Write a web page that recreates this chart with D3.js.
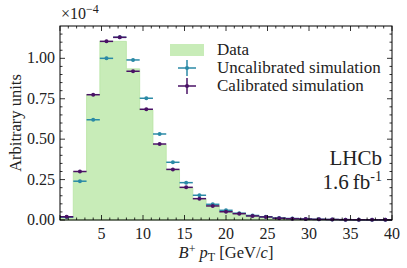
<!DOCTYPE html>
<html>
<head>
<meta charset="utf-8">
<script src="https://cdn.jsdelivr.net/npm/d3@7"></script>
<style>
  body { margin: 0; background: #fff; }
</style>
</head>
<body>
<svg id="chart"></svg>
<script>
// bin edges: 25 bins of 1.6 GeV from 0 to 40
var binLo = [0, 1.6, 3.2, 4.8, 6.4, 8, 9.6, 11.2, 12.8, 14.4, 16, 17.6, 19.2, 20.8, 22.4, 24, 25.6, 27.2, 28.8, 30.4, 32, 33.6, 35.2, 36.8, 38.4];
var binWidth = 1.6;

// values in units of 1e-4
var dataVals = [0.015, 0.30, 0.775, 1.105, 1.105, 0.935, 0.68, 0.465, 0.31, 0.20, 0.13, 0.088, 0.052, 0.037, 0.025, 0.018, 0.011, 0.008, 0.006, 0.004, 0.003, 0.002, 0.0015, 0.001, 0.001];
var uncalVals = [0.018, 0.24, 0.62, 1.0, 1.13, 0.99, 0.753, 0.532, 0.357, 0.231, 0.153, 0.097, 0.06, 0.042, 0.028, 0.02, 0.012, 0.009, 0.006, 0.004, 0.003, 0.002, 0.0015, 0.001, 0.001];
var calVals = [0.02, 0.30, 0.775, 1.105, 1.13, 0.92, 0.685, 0.47, 0.313, 0.202, 0.132, 0.087, 0.051, 0.039, 0.025, 0.019, 0.011, 0.008, 0.006, 0.004, 0.003, 0.002, 0.0015, 0.001, 0.001];
var errVals = [0.003, 0.006, 0.008, 0.009, 0.009, 0.008, 0.007, 0.006, 0.005, 0.005, 0.004, 0.003, 0.003, 0.002, 0.002, 0.002, 0.002, 0.001, 0.001, 0.001, 0.001, 0.001, 0.001, 0.001, 0.001];

var xTicks = [5, 10, 15, 20, 25, 30, 35, 40];
var yTicks = [0, 0.25, 0.5, 0.75, 1.0];

var W = 407, H = 268;
var m = {left: 60, right: 15, top: 26, bottom: 48};
var FONT = "'Liberation Serif', 'DejaVu Serif', serif";

var svg = d3.select("#chart").attr("width", W).attr("height", H)
    .attr("font-family", FONT);

var x = d3.scaleLinear().domain([0, 40]).range([m.left, W - m.right]);
var y = d3.scaleLinear().domain([0, 1.2]).range([H - m.bottom, m.top]);

var tealCol = "#2b8aa6";
var purpCol = "#4a1266";
var greenFill = "#c8ecb8";
var textCol = "#222";

// data histogram (filled step)
var area = d3.area()
    .curve(d3.curveStepAfter)
    .x(function(d){ return x(d[0]); })
    .y0(y(0))
    .y1(function(d){ return y(d[1]); });
var steps = binLo.map(function(b, i){ return [b, dataVals[i]]; });
steps.push([40, dataVals[dataVals.length - 1]]);
svg.append("path").datum(steps)
    .attr("d", area)
    .attr("fill", greenFill)
    .attr("stroke", "#b9e4a4")
    .attr("stroke-width", 0.8);

// simulation points with error bars
function drawSeries(vals, col) {
    var g = svg.append("g");
    binLo.forEach(function(b, i){
        var cx = x(b + binWidth / 2), cy = y(vals[i]);
        g.append("line")
            .attr("x1", x(b)).attr("x2", x(b + binWidth))
            .attr("y1", cy).attr("y2", cy)
            .attr("stroke", col).attr("stroke-width", 1.5);
        g.append("line")
            .attr("x1", cx).attr("x2", cx)
            .attr("y1", y(vals[i] - errVals[i])).attr("y2", y(vals[i] + errVals[i]))
            .attr("stroke", col).attr("stroke-width", 1.5);
        g.append("circle").attr("cx", cx).attr("cy", cy).attr("r", 2).attr("fill", col);
    });
}
drawSeries(uncalVals, tealCol);
drawSeries(calVals, purpCol);

// axes: inward ticks on all four sides
var x0 = m.left, x1 = W - m.right, y0 = H - m.bottom, y1 = m.top;
var xMinor = d3.range(1, 40).filter(function(v){ return v % 5 != 0; });
var yMinor = d3.range(0.05, 1.2, 0.05).filter(function(v){ return Math.abs(v / 0.25 - Math.round(v / 0.25)) > 0.01; });

function ticksX(g, vals, len, atY, dir) {
    vals.forEach(function(v){
        g.append("line").attr("x1", x(v)).attr("x2", x(v))
            .attr("y1", atY).attr("y2", atY + dir * len)
            .attr("stroke", "#000").attr("stroke-width", 0.8);
    });
}
function ticksY(g, vals, len, atX, dir) {
    vals.forEach(function(v){
        g.append("line").attr("y1", y(v)).attr("y2", y(v))
            .attr("x1", atX).attr("x2", atX + dir * len)
            .attr("stroke", "#000").attr("stroke-width", 0.8);
    });
}
var tg = svg.append("g");
ticksX(tg, xTicks.concat([0]), 5, y0, -1);
ticksX(tg, xTicks.concat([0]), 5, y1, 1);
ticksX(tg, xMinor, 2.5, y0, -1);
ticksX(tg, xMinor, 2.5, y1, 1);
ticksY(tg, yTicks, 5, x0, 1);
ticksY(tg, yTicks, 5, x1, -1);
ticksY(tg, yMinor, 2.5, x0, 1);
ticksY(tg, yMinor, 2.5, x1, -1);

svg.append("rect").attr("x", x0).attr("y", y1)
    .attr("width", x1 - x0).attr("height", y0 - y1)
    .attr("fill", "none").attr("stroke", "#000").attr("stroke-width", 1);

// tick labels
svg.append("g").selectAll("text").data(xTicks).enter().append("text")
    .attr("x", function(d){ return x(d); })
    .attr("y", y0 + 19)
    .attr("text-anchor", "middle")
    .attr("font-size", 16)
    .attr("fill", textCol)
    .text(function(d){ return d; });
svg.append("g").selectAll("text").data(yTicks).enter().append("text")
    .attr("x", x0 - 5)
    .attr("y", function(d){ return y(d) + 5; })
    .attr("text-anchor", "end")
    .attr("font-size", 16)
    .attr("fill", textCol)
    .text(function(d){ return d3.format(".2f")(d); });

// multiplier
var mult = svg.append("text").attr("x", 61).attr("y", 19).attr("font-size", 16).attr("fill", textCol);
mult.append("tspan").text("\u00d710");
mult.append("tspan").attr("dy", -6).attr("font-size", 12).text("\u22124");

// axis labels
svg.append("text")
    .attr("transform", "translate(21," + ((y0 + y1) / 2) + ") rotate(-90)")
    .attr("text-anchor", "middle")
    .attr("font-size", 16.5)
    .attr("fill", textCol)
    .text("Arbitrary units");

var xl = svg.append("text").attr("x", (x0 + x1) / 2).attr("y", 258)
    .attr("text-anchor", "middle").attr("font-size", 16.5).attr("fill", textCol);
xl.append("tspan").attr("font-style", "italic").text("B");
xl.append("tspan").attr("dy", -5).attr("font-size", 12).text("+");
xl.append("tspan").attr("dy", 5).attr("font-style", "italic").text(" p");
xl.append("tspan").attr("dy", 3).attr("font-size", 12).text("T");
xl.append("tspan").attr("dy", -3).text(" [GeV/");
xl.append("tspan").attr("font-style", "italic").text("c");
xl.append("tspan").text("]");

// legend
var lg = svg.append("g");
lg.append("rect").attr("x", 170).attr("y", 44).attr("width", 34).attr("height", 12)
    .attr("fill", greenFill);
lg.append("text").attr("x", 217).attr("y", 55).attr("font-size", 17)
    .attr("fill", textCol).text("Data");
[[tealCol, 68, "Uncalibrated simulation"], [purpCol, 86, "Calibrated simulation"]].forEach(function(e){
    lg.append("line").attr("x1", 178).attr("x2", 196).attr("y1", e[1]).attr("y2", e[1])
        .attr("stroke", e[0]).attr("stroke-width", 1.5);
    lg.append("line").attr("x1", 187).attr("x2", 187).attr("y1", e[1] - 8).attr("y2", e[1] + 8)
        .attr("stroke", e[0]).attr("stroke-width", 1.5);
    lg.append("circle").attr("cx", 187).attr("cy", e[1]).attr("r", 2).attr("fill", e[0]);
    lg.append("text").attr("x", 217).attr("y", e[1] + 5).attr("font-size", 17)
        .attr("fill", textCol).text(e[2]);
});

// LHCb label
svg.append("text").attr("x", 382).attr("y", 165).attr("text-anchor", "end")
    .attr("font-size", 21).attr("fill", textCol).text("LHCb");
var lumi = svg.append("text").attr("x", 382).attr("y", 189).attr("text-anchor", "end")
    .attr("font-size", 21).attr("fill", textCol);
lumi.append("tspan").text("1.6\u2009fb");
lumi.append("tspan").attr("dy", -8).attr("font-size", 14).text("-1");
</script>
</body>
</html>
